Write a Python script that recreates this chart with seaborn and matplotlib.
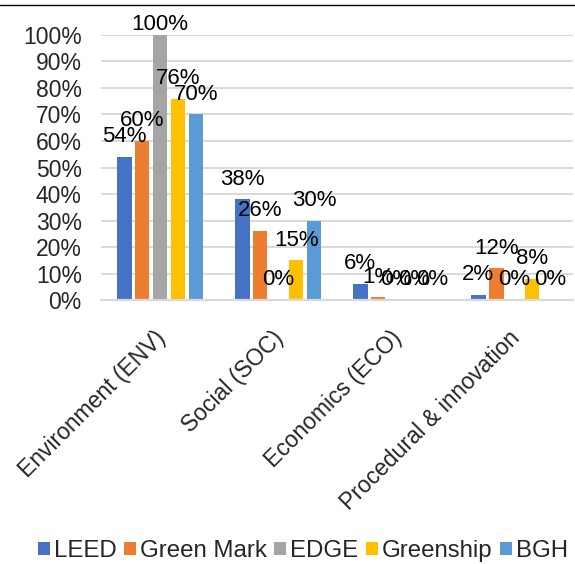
import matplotlib
matplotlib.use("Agg")
from matplotlib import pyplot as plt
from matplotlib.lines import Line2D
from matplotlib.transforms import ScaledTranslation
import pandas as pd
import seaborn as sns

categories = ["Environment (ENV)", "Social (SOC)", "Economics (ECO)", "Procedural & innovation"]
series = ["LEED", "Green Mark", "EDGE", "Greenship", "BGH"]
leed = [54, 38, 6, 2]
green_mark = [60, 26, 1, 12]
edge = [100, 0, 0, 0]
greenship = [76, 15, 0, 8]
bgh = [70, 30, 0, 0]
colors = ["#4472C4", "#ED7D31", "#A5A5A5", "#FFC000", "#5B9BD5"]
yticks = [0, 10, 20, 30, 40, 50, 60, 70, 80, 90, 100]

values = [leed, green_mark, edge, greenship, bgh]
rows = []
for name, vals in zip(series, values):
    for cat, v in zip(categories, vals):
        rows.append({"category": cat, "scheme": name, "value": v})
df = pd.DataFrame(rows)

sns.set_style("white")
plt.rcParams["font.family"] = ["Liberation Sans", "DejaVu Sans"]
FS = 16.5

fig = plt.figure(figsize=(5.75, 5.64), dpi=100)
ax = fig.add_axes([0.176, 0.468, 0.821, 0.470])

sns.barplot(data=df, x="category", y="value", hue="scheme", hue_order=series,
            palette=colors, width=0.76, gap=0.2, ax=ax, edgecolor="none",
            saturation=1, legend=True)

# data labels, Excel style "outside end"
for container, vals in zip(ax.containers, values):
    for bar, v in zip(container, vals):
        pad = 0 if v >= 100 else 7
        ax.annotate(f"{v}%", (bar.get_x() + bar.get_width() / 2, bar.get_height()),
                    xytext=(0, pad), textcoords="offset points",
                    ha="center", va="bottom", fontsize=16, color="#000000",
                    annotation_clip=False)

ax.set_ylim(0, 100)
ax.set_yticks(yticks)
ax.set_yticklabels([f"{t}%" for t in yticks], fontsize=FS)
ax.yaxis.grid(True, color="#D9D9D9", linewidth=1.4)
ax.set_axisbelow(True)
ax.tick_params(axis="y", length=0, pad=14)
ax.tick_params(axis="x", length=0, pad=19)
ax.set_xlabel("")
ax.set_ylabel("")
for s in ["top", "right", "left"]:
    ax.spines[s].set_visible(False)
ax.spines["bottom"].set_color("#D9D9D9")
ax.spines["bottom"].set_linewidth(1.6)

shift = ScaledTranslation(-6 / 100, 0, fig.dpi_scale_trans)
for lab in ax.get_xticklabels():
    lab.set_rotation(45)
    lab.set_ha("right")
    lab.set_va("top")
    lab.set_rotation_mode("anchor")
    lab.set_fontsize(FS)
    lab.set_transform(lab.get_transform() + shift)

handles, labels = ax.get_legend_handles_labels()
ax.legend_.remove()
fig.legend(handles, labels, loc="center", bbox_to_anchor=(0.527, 0.023), ncol=5,
           frameon=False, fontsize=17.3, handlelength=0.5, handleheight=0.5,
           handletextpad=0.17, columnspacing=0.3, borderpad=0, borderaxespad=0)

fig.add_artist(Line2D([0, 1], [1 - 5 / 564, 1 - 5 / 564], color="black", linewidth=1))

fig.savefig("out.png", dpi=100)
